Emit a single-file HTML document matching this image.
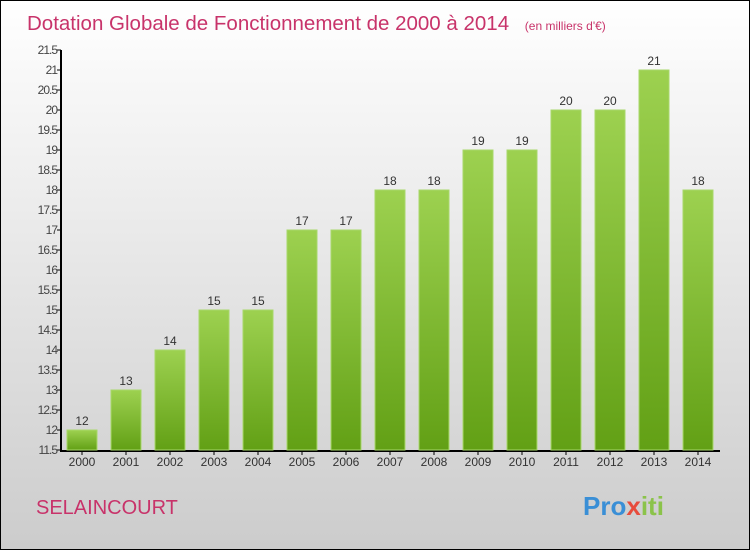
<!DOCTYPE html>
<html><head><meta charset="utf-8"><style>
body{margin:0}
#c{width:748px;height:548px;border:1px solid #000;background:linear-gradient(#fff,#ccc);position:relative;overflow:hidden;font-family:"Liberation Sans",sans-serif}
</style></head><body>
<div id="c">
<svg width="748" height="548" viewBox="1 1 748 548" style="position:absolute;left:0;top:0" id="s">
<defs><linearGradient id="g" x1="0" y1="0" x2="0" y2="1"><stop offset="0" stop-color="#9dd150"/><stop offset="1" stop-color="#62a015"/></linearGradient></defs>
<text x="27" y="30" font-size="20.5" fill="#c8336a">Dotation Globale de Fonctionnement de 2000 à 2014 <tspan font-size="12" dx="10">(en milliers d'€)</tspan></text>
<text x="36" y="514" font-size="20" fill="#c8336a">SELAINCOURT</text>
<text x="583" y="515" font-size="26" font-weight="bold" fill="#f39c12"><tspan fill="#3a8fd6">Pro</tspan><tspan fill="#e74c3c">x</tspan><tspan fill="#8bc34a">iti</tspan></text>
<g id="ax"></g><g id="bars"></g>
</svg>
</div>
<script>
const years=["2000","2001","2002","2003","2004","2005","2006","2007","2008","2009","2010","2011","2012","2013","2014"];
const values=[12,13,14,15,15,17,17,18,18,19,19,20,20,21,18];
const ticks=[11.5,12,12.5,13,13.5,14,14.5,15,15.5,16,16.5,17,17.5,18,18.5,19,19.5,20,20.5,21,21.5];
const NS="http://www.w3.org/2000/svg";
const y=v=>450-(v-11.5)*40;
const x=i=>67+i*44;
function mk(t,a,p){const e=document.createElementNS(NS,t);for(const k in a)e.setAttribute(k,a[k]);p.appendChild(e);return e;}
const ax=document.getElementById('ax'),bars=document.getElementById('bars');
let l=mk('line',{x1:61,y1:50,x2:61,y2:451,stroke:'#000','stroke-width':2},ax);


l=mk('line',{x1:60,y1:451,x2:720,y2:451,stroke:'#000','stroke-width':2},ax);


ticks.forEach(t=>{
 mk('line',{x1:57,y1:y(t),x2:61,y2:y(t),stroke:'#000'},ax);
 const tx=mk('text',{x:57,y:y(t)+4,'font-size':12,'text-anchor':'end',fill:'#444','letter-spacing':'-1'},ax);
 tx.textContent=t;
 
 
});
years.forEach((yr,i)=>{
 const r=mk('rect',{x:x(i),y:y(values[i]),width:30,height:450-y(values[i]),fill:'url(#g)',stroke:'#a8d86a','stroke-width':1},bars);
 
 
 const v=mk('text',{x:x(i)+15,y:y(values[i])-5,'font-size':12,'text-anchor':'middle',fill:'#333'},bars);
 v.textContent=values[i];
 
 
 mk('line',{x1:x(i)+15,y1:451,x2:x(i)+15,y2:455,stroke:'#000'},ax);
 const xl=mk('text',{x:x(i)+15,y:466,'font-size':12,'text-anchor':'middle',fill:'#333'},ax);
 xl.textContent=yr;
 
 
});
</script>
</body></html>
